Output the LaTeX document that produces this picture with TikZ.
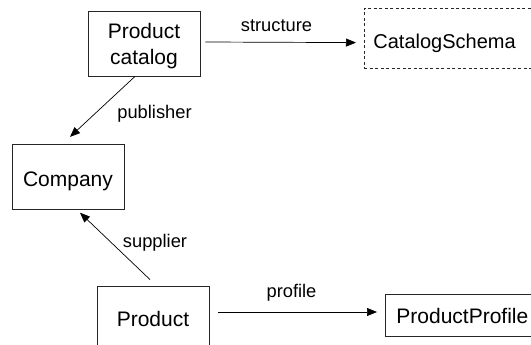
\documentclass[tikz,border=0pt]{standalone}
\usepackage{fontspec}
\setmainfont{Liberation Sans}
\usetikzlibrary{arrows.meta}
\begin{document}
\begin{tikzpicture}[x=1pt,y=-1pt,
  box/.style={draw=black!85, line width=0.8pt, inner sep=0pt, font=\fontsize{21}{26.5}\selectfont},
  lbl/.style={font=\fontsize{18.3}{21}\selectfont, anchor=base, inner sep=0pt},
  arr/.style={line width=0.7pt, -{Triangle[length=10pt,width=8pt]}}]
\useasboundingbox (0,0) rectangle (531,345);
\clip (0,0) rectangle (531,345);

\node[box, minimum width=112pt, minimum height=65pt, align=center, text height=43pt, text depth=0pt] (catalog) at (144,43.5) {Product\\catalog};
\node[box, dashed, dash pattern=on 3pt off 2.5pt, anchor=west, inner xsep=9pt, text width=170pt, align=left,
      minimum height=60pt, text height=19.5pt, text depth=0pt, font=\fontsize{20}{24}\selectfont] (schema) at (364,38.3) {CatalogSchema};
\node[box, minimum width=112pt, minimum height=65pt, text height=18.4pt, text depth=0pt] (company) at (68,176.8) {Company};
\node[box, minimum width=112pt, minimum height=65pt, text height=15pt, text depth=0pt] (product) at (153,318.5) {Product};
\node[box, anchor=west, inner xsep=11pt, text width=160pt, align=left,
      minimum height=42pt, text height=16pt, text depth=0pt] (profile) at (385,315) {ProductProfile};

\draw[arr] ([xshift=5pt,yshift=1.5pt]catalog.east) -- ([xshift=-8pt,yshift=-4.3pt]schema.west);
\draw[arr] ([xshift=-9pt]catalog.south) -- ([xshift=2pt,yshift=7pt]company.north);
\draw[arr] ([xshift=-3pt,yshift=6pt]product.north) -- ([xshift=12pt,yshift=-3pt]company.south);
\draw[arr] ([xshift=9pt,yshift=6.5pt]product.east) -- ([xshift=-8pt,yshift=3pt]profile.west);

\node[lbl] (lstructure) at (276.5,32) {structure};
\node[lbl] (lpublisher) at (154.5,119) {publisher};
\node[lbl] (lsupplier) at (155,247) {supplier};
\node[lbl] (lprofile) at (291.5,297) {profile};
\end{tikzpicture}
\end{document}
